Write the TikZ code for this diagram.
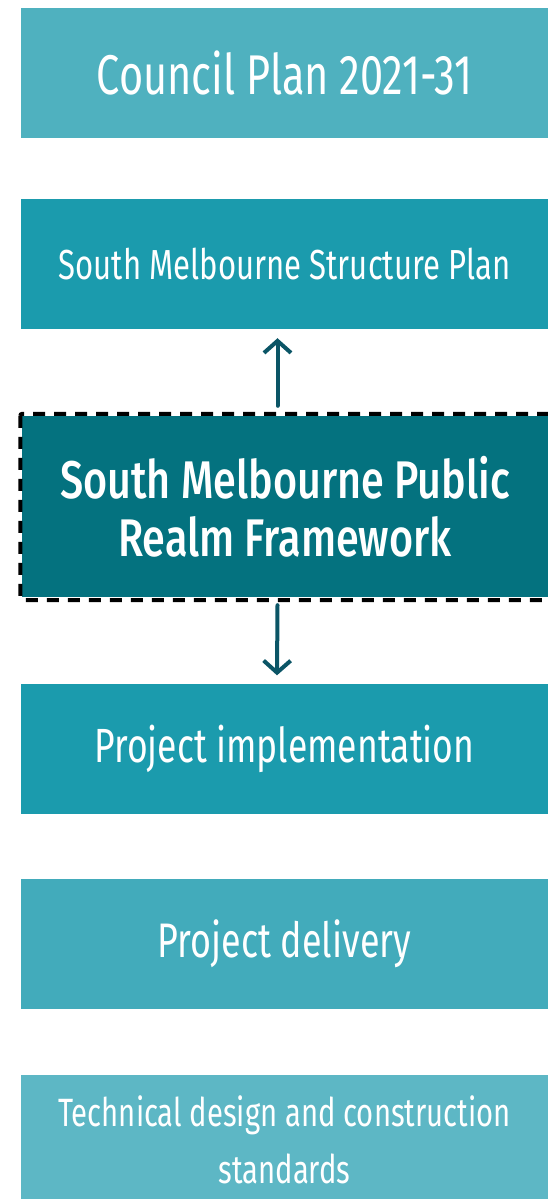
\documentclass[tikz,border=0pt]{standalone}
\usepackage{fontspec}
\setmainfont{Fira Sans}[FakeStretch=0.74]
\newfontfamily\medfont{Fira Sans Medium}[FakeStretch=0.78]
\usetikzlibrary{arrows.meta}

\definecolor{planlight}{HTML}{4FB1BF}
\definecolor{planmid}{HTML}{1B9BAD}
\definecolor{plandark}{HTML}{04727F}
\definecolor{planpale}{HTML}{42ABBB}
\definecolor{planfaint}{HTML}{5DB7C5}
\definecolor{arrowteal}{HTML}{0B5566}

\begin{document}
\begin{tikzpicture}[x=1pt, y=-1pt,
	box/.style={rectangle, minimum width=527pt, minimum height=130pt, inner sep=0pt, text=white, align=center},
	link/.style={draw=arrowteal, line width=4pt, line cap=round, -{Straight Barb[length=12pt, width=27pt, line width=4pt]}}]
	
	\useasboundingbox (0,0) rectangle (548,1199);
	
	\node[box, fill=planlight, font=\fontsize{56}{60}\selectfont] (council) at (284.5,73) {Council Plan 2021-31};
	\node[box, fill=planmid, font=\fontsize{42}{50}\selectfont] (structure) at (284.5,264) {South Melbourne Structure Plan};
	
	\node[box, fill=plandark, minimum width=526pt, minimum height=181pt, font=\medfont\fontsize{53}{58}\selectfont] (frame) at (285,506.5) {South Melbourne Public\\Realm Framework};
	\draw[black, line width=4pt, dash pattern=on 12pt off 9pt, rounded corners=2pt] ([xshift=-1.5pt, yshift=2pt]frame.north west) rectangle ([xshift=4pt, yshift=-3pt]frame.south east);
	
	\node[box, fill=planmid, font=\fontsize{48}{50}\selectfont] (impl) at (284.5,748.5) {Project implementation};
	\node[box, fill=planpale, font=\fontsize{48.5}{50}\selectfont] (delivery) at (284.5,944) {Project delivery};
	\node[box, fill=planfaint, font=\fontsize{39.5}{57}\selectfont] (standards) at (284.5,1140) {Technical design and construction\\standards};
	
	\draw[link] ([xshift=-7.5pt, yshift=10pt]frame.north) -- ([xshift=-7pt, yshift=-9pt]structure.south);
	\draw[link] ([xshift=-7.5pt, yshift=-8pt]frame.south) -- ([xshift=-7.5pt, yshift=8pt]impl.north);
	
\end{tikzpicture}
\end{document}
